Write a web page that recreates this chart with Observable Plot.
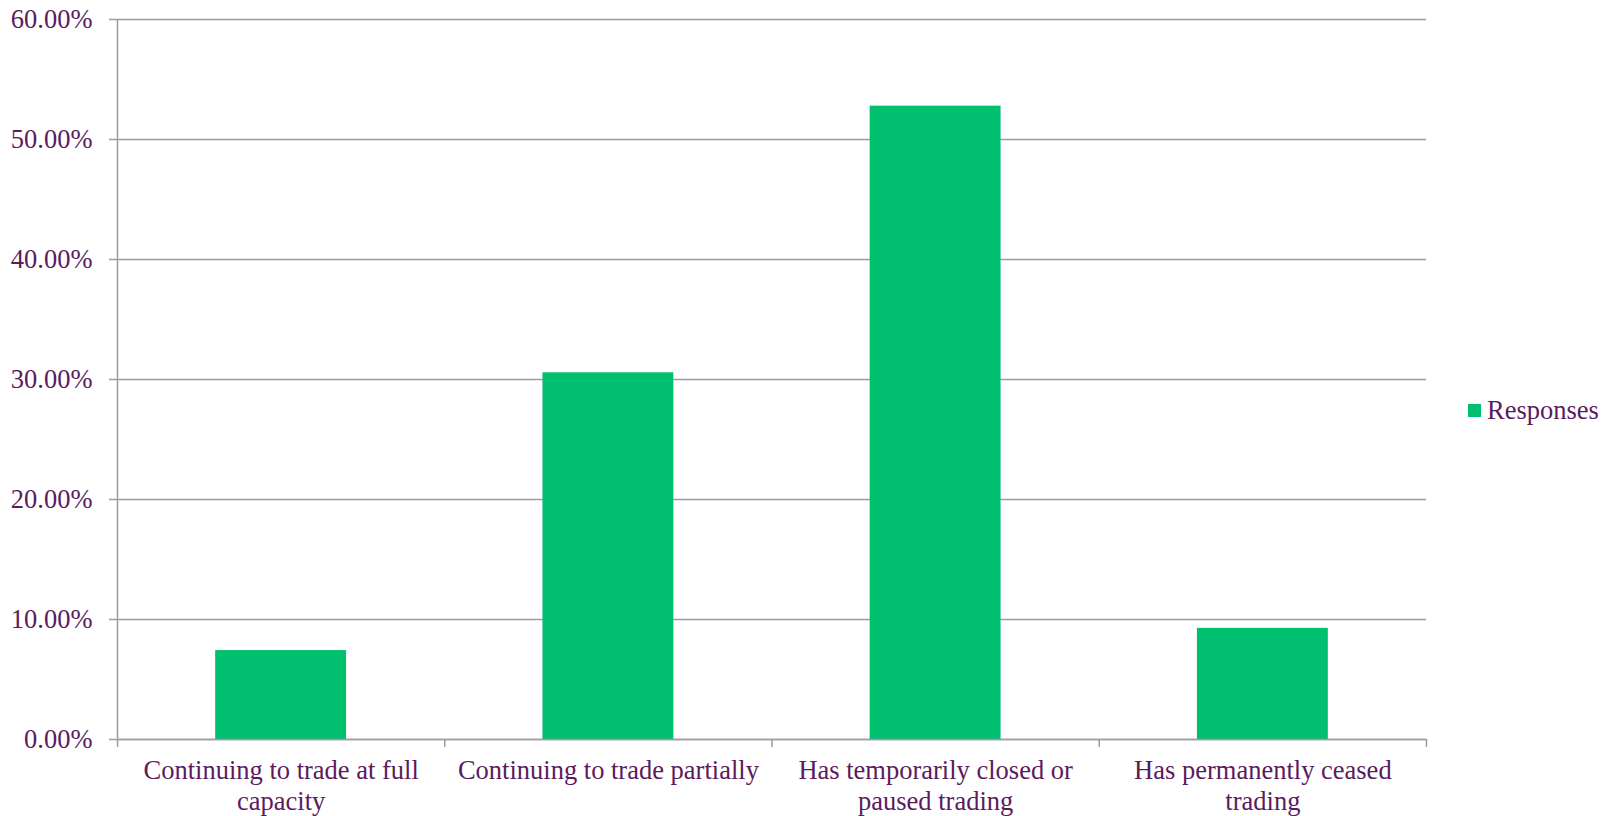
<!DOCTYPE html>
<html>
<head>
<meta charset="utf-8">
<script src="https://cdn.jsdelivr.net/npm/d3@7"></script>
<script src="https://cdn.jsdelivr.net/npm/@observablehq/plot@0.6"></script>
<style>
  html, body { margin: 0; padding: 0; background: #fff; }
  #wrap { position: relative; width: 1613px; height: 816px; }
  #legend { position: absolute; left: 1468px; top: 395px; font-family: "Liberation Serif", "Times New Roman", serif; font-size: 26.5px; color: #5b1b5e; display: flex; align-items: center; }
  #legend .sw { width: 13px; height: 13px; background: #00bf6f; margin-right: 6px; }
</style>
</head>
<body>
<div id="wrap">
  <div id="chart"></div>
  <div id="legend"><span class="sw"></span><span>Responses</span></div>
</div>
<script>
const categories = [
  "Continuing to trade at full\ncapacity",
  "Continuing to trade partially",
  "Has temporarily closed or\npaused trading",
  "Has permanently ceased\ntrading"
];
const responses = [0.0741, 0.3056, 0.5278, 0.0926];
const yTicks = [0, 0.1, 0.2, 0.3, 0.4, 0.5, 0.6];

const textColor = "#5b1b5e";
const gridColor = "#a597a8";
const barColor = "#00bf6f";
const font = "'Liberation Serif', 'Times New Roman', serif";
const fs = 26.5;

const data = categories.map((c, i) => ({ label: c, i, value: responses[i] }));
const bounds = d3.range(categories.length + 1);

const chart = Plot.plot({
  width: 1613,
  height: 816,
  marginTop: 19,
  marginBottom: 77,
  marginLeft: 117,
  marginRight: 187,
  style: { fontFamily: font, fontSize: fs + "px", color: textColor, background: "#fff" },
  x: { domain: [0, categories.length], axis: null },
  y: { domain: [0, 0.6], axis: null },
  marks: [
    Plot.ruleY(yTicks, { x1: 0, x2: categories.length, stroke: gridColor, strokeWidth: 1.5 }),
    Plot.axisY({ ticks: yTicks, tickFormat: d3.format(".2%"), tickSize: 8, tickPadding: 17, stroke: gridColor, strokeWidth: 1.5, fill: textColor, fontSize: fs, label: null }),
    Plot.rectY(data, { x1: d => d.i + 0.3, x2: d => d.i + 0.7, y: "value", fill: barColor }),
    Plot.ruleX([0], { stroke: gridColor, strokeWidth: 1.5 }),
    Plot.ruleY([0], { stroke: gridColor, strokeWidth: 1.5 }),
    Plot.axisX({ ticks: bounds, tickFormat: () => "", tickSize: 8, stroke: gridColor, strokeWidth: 1.5, label: null }),
    Plot.text(data, { x: d => d.i + 0.5, y: 0, text: "label", dy: 17, lineAnchor: "top", lineHeight: 1.17, fill: textColor, fontSize: fs, fontFamily: font })
  ]
});
document.getElementById("chart").appendChild(chart);
</script>
</body>
</html>
